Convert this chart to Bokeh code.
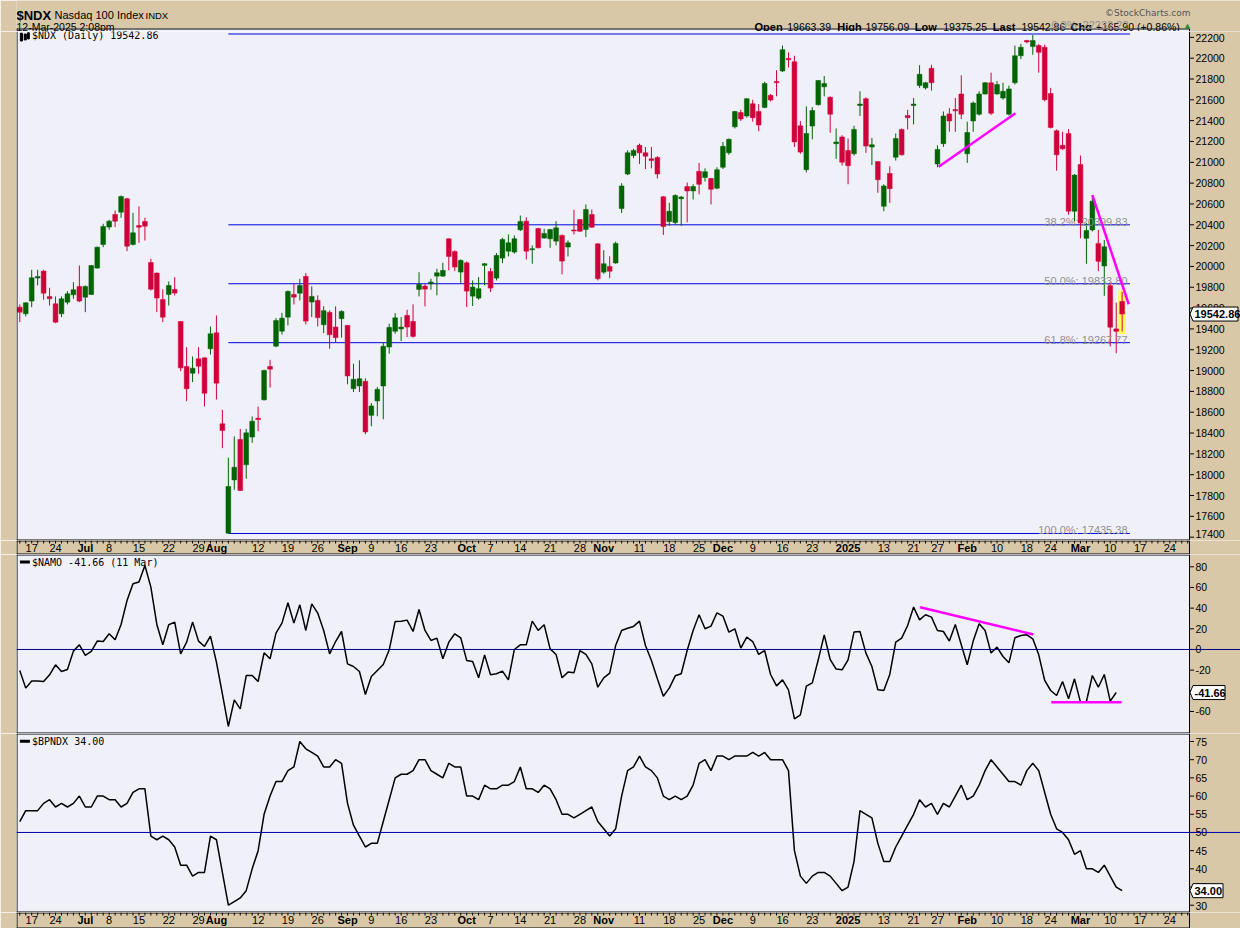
from bokeh.plotting import figure
from bokeh.layouts import column
from bokeh.models import Range1d, Span
from bokeh.core.properties import value
from bokeh.embed import file_html
from bokeh.resources import INLINE

# ---------------- data (trading-day index 0 = 13-Jun-2024 ... 185 = 12-Mar-2025) ----------------
opens = [19609, 19545, 19667, 19888, 19955, 19712, 19641, 19545, 19657, 19727,
         19808, 19705, 19731, 19984, 20211, 20378, 20499, 20521, 20650, 20211,
         20393, 20432, 20038, 19936, 19683, 19731, 19779, 19471, 19039, 18975,
         19113, 19122, 19209, 19362, 18489, 17438, 17950, 18338, 18095, 18361,
         18543, 18719, 19039, 19234, 19378, 19513, 19731, 19743, 19904, 19658,
         19674, 19440, 19559, 19418, 19498, 19434, 18826, 18852, 18897, 18570,
         18708, 18852, 19226, 19377, 19400, 19530, 19472, 19779, 19811, 19834,
         19907, 19907, 20265, 20144, 19946, 20035, 19715, 19696, 20010, 19952,
         19888, 20080, 20147, 20138, 20352, 20435, 20160, 20365, 20272, 20266,
         20243, 20298, 20186, 20349, 20451, 20355, 20499, 20217, 19945, 20000,
         20033, 20556, 20887, 21065, 21163, 21091, 21033, 21046, 20669, 20432,
         20423, 20650, 20767, 20725, 20913, 20854, 20845, 20751, 20952, 21091,
         21341, 21478, 21445, 21562, 21488, 21527, 21643, 21777, 21877, 21997,
         21965, 21351, 20929, 21348, 21553, 21725, 21624, 21179, 21244, 21114,
         21082, 21546, 21611, 21147, 21007, 20578, 20893, 21049, 21316, 21449,
         21546, 21738, 21715, 21903, 20984, 21179, 21465, 21507, 21656, 21082,
         21397, 21462, 21656, 21764, 21656, 21617, 21462, 21764, 22023, 22169,
         22111, 22121, 22105, 21660, 21303, 21163, 21277, 20530, 20978, 20270,
         20351, 20221, 20004, 19815, 19400, 19663.39]
highs = [19635, 19655, 19968, 19968, 19968, 19795, 19712, 19712, 19763, 19849,
         20009, 19817, 20012, 20190, 20410, 20448, 20538, 20681, 20659, 20515,
         20576, 20467, 20073, 19942, 19779, 19856, 19897, 19475, 19225, 19135,
         19225, 19125, 19423, 19529, 18623, 18163, 18367, 18440, 18440, 18559,
         18655, 19008, 19103, 19503, 19554, 19770, 19833, 19881, 19936, 19808,
         19722, 19617, 19578, 19617, 19578, 19436, 19066, 19098, 18925, 18688,
         18842, 19274, 19450, 19552, 19514, 19584, 19636, 19945, 19830, 19882,
         19978, 20035, 20270, 20154, 20068, 20048, 19866, 19898, 20032, 19984,
         20128, 20275, 20307, 20298, 20489, 20473, 20202, 20371, 20362, 20360,
         20435, 20307, 20250, 20544, 20455, 20595, 20547, 20222, 20156, 20098,
         20238, 20799, 21114, 21130, 21179, 21147, 21147, 21059, 20676, 20611,
         20692, 20676, 20806, 20789, 20994, 20942, 20850, 20952, 21195, 21228,
         21494, 21504, 21617, 21601, 21559, 21773, 21656, 21884, 22121, 22056,
         22023, 21397, 21536, 21530, 21790, 21829, 21634, 21325, 21260, 21228,
         21351, 21682, 21624, 21234, 21010, 20789, 20962, 21277, 21325, 21504,
         21617, 21932, 21773, 21936, 21163, 21488, 21520, 21617, 21835, 21390,
         21585, 21682, 21770, 21861, 21780, 21764, 21737, 22121, 22137, 22176,
         22222.61, 22137, 22130, 21715, 21316, 21293, 21319, 20887, 21065, 20416,
         20686, 20351, 20254, 19848, 19653, 19756.09]
lows = [19465, 19520, 19609, 19818, 19680, 19625, 19455, 19513, 19635, 19689,
        19657, 19561, 19725, 19978, 20185, 20352, 20378, 20467, 20147, 20201,
        20227, 20249, 19769, 19561, 19465, 19625, 19721, 18994, 18706, 18889,
        18969, 18655, 19154, 18722, 18255, 17435.38, 17855, 17842, 17961, 18306,
        18418, 18713, 18837, 19225, 19346, 19433, 19635, 19673, 19443, 19514,
        19425, 19360, 19210, 19274, 19316, 18868, 18794, 18794, 18388, 18465,
        18561, 18532, 19162, 19354, 19284, 19322, 19316, 19712, 19616, 19776,
        19722, 19900, 19962, 19955, 19840, 19610, 19620, 19680, 19818, 19754,
        19866, 20032, 20096, 20122, 20339, 20067, 20026, 20173, 20266, 20179,
        20202, 19923, 20096, 20307, 20330, 20282, 20371, 19866, 19929, 19887,
        20026, 20514, 20877, 21040, 20984, 20936, 20942, 20845, 20302, 20390,
        20400, 20390, 20423, 20643, 20692, 20815, 20595, 20741, 20936, 21072,
        21325, 21397, 21429, 21390, 21299, 21520, 21585, 21634, 21867, 21910,
        21147, 21082, 20903, 21221, 21546, 21634, 21283, 21033, 20968, 20789,
        21065, 21445, 21091, 20974, 20708, 20530, 20611, 21017, 21065, 21316,
        21364, 21715, 21699, 21689, 20952, 21147, 21293, 21293, 21416, 20994,
        21293, 21449, 21650, 21455, 21650, 21601, 21449, 21747, 21991, 22143,
        22033, 21861, 21585, 21325, 20919, 21120, 20497, 20432, 20270, 20026,
        20335, 19955, 19718, 19231, 19166, 19375.25]
closes = [19561, 19651, 19891, 19904, 19743, 19690, 19465, 19689, 19737, 19776,
          19667, 19808, 20009, 20185, 20384, 20435, 20435, 20672, 20195, 20323,
          20377, 20387, 19782, 19696, 19513, 19817, 19744, 19026, 18825, 19023,
          19042, 18783, 19353, 18879, 18424, 17887, 18072, 17848, 18402, 18514,
          18530, 19001, 19013, 19481, 19503, 19760, 19705, 19817, 19475, 19712,
          19508, 19575, 19344, 19316, 19568, 18948, 18916, 18922, 18410, 18660,
          18820, 19233, 19415, 19507, 19418, 19418, 19328, 19827, 19782, 19850,
          19939, 19962, 20096, 19994, 20058, 19763, 19802, 19786, 20026, 19792,
          20106, 20259, 20227, 20266, 20432, 20147, 20170, 20179, 20317, 20355,
          20371, 20051, 20227, 20342, 20339, 20547, 20377, 19882, 20026, 19954,
          20221, 20773, 21091, 21114, 21091, 21059, 21017, 20887, 20384, 20530,
          20682, 20666, 20725, 20767, 20789, 20910, 20741, 20929, 21153, 21221,
          21488, 21416, 21611, 21429, 21358, 21757, 21598, 21764, 22082, 21984,
          21195, 21098, 21277, 21497, 21786, 21757, 21462, 21195, 21001, 20968,
          21316, 21559, 21156, 21169, 20832, 20773, 20747, 21228, 21072, 21429,
          21559, 21845, 21764, 21764, 21124, 21445, 21397, 21494, 21462, 21286,
          21569, 21656, 21764, 21471, 21747, 21682, 21705, 22023, 22105, 22156,
          22169, 22056, 21601, 21335, 21072, 21130, 20530, 20877, 20416, 20345,
          20627, 20049, 20189, 19416, 19377, 19542.86]

namo = [-20.3, -37.4, -30.6, -30.6, -31.0, -24.5, -14.8, -21.3, -19.4, -1.6,
        4.5, -5.8, -1.9, 8.1, 7.7, 15.2, 9.4, 24.2, 47.4, 63.6,
        65.2, 81.3, 60.3, 24.2, 4.5, 23.9, 26.5, -4.2, 7.1, 26.5,
        8.1, 2.9, 12.9, -12.3, -42.9, -74.5, -48.7, -57.4, -25.2, -25.2,
        -31.0, -3.2, -9.0, 15.8, 25.5, 45.2, 25.5, 43.2, 18.4, 44.2,
        35.2, 18.4, -4.2, 7.7, 17.4, -13.9, -16.5, -21.3, -43.6, -26.1,
        -20.3, -14.5, -0.3, 27.1, 27.4, 28.4, 17.4, 38.7, 18.4, 8.7,
        11.0, -9.0, 7.1, 15.2, 11.3, -10.6, -11.6, -27.4, -5.2, -24.5,
        -23.5, -21.0, -29.4, 0.0, 4.5, 4.5, 27.4, 18.4, 23.9, 0.6,
        -4.8, -27.4, -21.9, -22.6, -1.0, -4.8, -13.9, -36.5, -27.4, -22.9,
        3.9, 18.4, 20.6, 22.3, 27.4, 3.9, -10.6, -28.4, -45.2, -37.4,
        -25.5, -23.5, -1.0, 18.4, 33.6, 20.0, 22.6, 35.5, 32.3, 16.8,
        20.0, 1.3, 11.9, 7.7, -4.8, -1.0, -24.2, -35.2, -29.4, -39.0,
        -67.1, -63.2, -35.5, -32.3, -10.0, 14.2, -9.7, -19.0, -19.7, -10.0,
        16.8, 17.4, -3.5, -16.5, -39.0, -39.7, -24.2, 7.1, 11.0, 23.2,
        41.0, 28.7, 33.6, 31.3, 18.4, 17.4, 8.1, 24.2, 4.5, -14.8,
        8.1, 24.8, 18.4, -3.5, 2.3, -6.8, -12.9, 11.3, 13.5, 14.2,
        10.3, -5.2, -30.0, -39.7, -44.5, -31.0, -47.7, -28.4, -51.0, -50.3,
        -25.2, -36.5, -24.2, -50.0, -41.66]

bpndx = [53, 56, 56, 56, 58, 59, 57, 58, 57, 58,
         60, 57, 57, 60, 60, 59, 59, 57, 58, 61,
         62, 62, 49, 48, 49, 48, 46, 41, 41, 38,
         39, 39, 49, 48, 39, 30, 31, 32, 34, 40,
         45, 55, 60, 64, 64, 67, 68, 75, 73, 72,
         71, 68, 68, 70, 69, 58, 52, 49, 46, 47,
         47, 53, 59, 65, 66, 66, 67, 70, 70, 67,
         66, 65, 69, 68, 68, 60, 60, 59, 63, 62,
         62, 63, 63, 64, 68, 62, 62, 61, 63, 62,
         59, 55, 55, 54, 55, 56, 57, 53, 51, 49,
         51, 60, 67, 68, 71, 68, 67, 65, 60, 59,
         60, 59, 60, 63, 69, 70, 67, 71, 71, 70,
         71, 71, 71, 72, 71, 72, 70, 70, 70, 67,
         45, 38, 36, 38, 39, 39, 38, 36, 34, 35,
         42, 56, 55, 54, 47, 42, 42, 46, 49, 52,
         55, 59, 57, 58, 55, 58, 57, 60, 63, 59,
         60, 63, 67, 70, 68, 66, 64, 64, 63, 67,
         69, 67, 61, 55, 51, 50, 48, 44, 45, 40,
         40, 39, 41, 38, 35, 34]

tick_pos = [2, 6, 11, 15, 20, 25, 30, 33, 40, 45, 50, 55, 59, 64, 69, 75, 79, 84, 89, 94,
            98, 104, 109, 114, 118, 123, 128, 133, 139, 145, 150, 154, 159, 164, 169, 173,
            178, 183, 188, 193]
tick_text = ["17", "24", "Jul", "8", "15", "22", "29", "Aug", "12", "19", "26", "Sep", "9",
             "16", "23", "Oct", "7", "14", "21", "28", "Nov", "11", "18", "25", "Dec", "9",
             "16", "23", "2025", "13", "21", "27", "Feb", "10", "18", "24", "Mar", "10",
             "17", "24"]
tick_bold = [t in ("Jul", "Aug", "Sep", "Oct", "Nov", "Dec", "2025", "Feb", "Mar") for t in tick_text]

price_ticks = list(range(17400, 22201, 200))
namo_ticks = [-60, -40, -20, 0, 20, 40, 60, 80]
bp_ticks = list(range(30, 76, 5))

fib_pct = ["0.0%", "38.2%", "50.0%", "61.8%", "100.0%"]
fib_levels = [22232.22, 20399.83, 19833.80, 19267.77, 17435.38]
fib_start, fib_end = 35, 186.3

trend1_x, trend1_y = [154.2, 167.1], [20958, 21471]
trend2_x, trend2_y = [180.0, 186.1], [20685, 19637]
namo_t1_x, namo_t1_y = [151.1, 170.1], [40.9, 14.5]
namo_t2_x, namo_t2_y = [173.1, 184.9], [-51.0, -51.0]

# ---------------- style / geometry ----------------
TAN = "#d8c8a8"
PANEL = "#f0f0f9"
GREEN = "#006400"
RED = "#d0003a"
BLUE = "#0000e0"
NAVY = "#000080"
MAGENTA = "#ff00ff"
FONT = "Liberation Sans"
MONO = "DejaVu Sans Mono"

W = 1240
LB = 16             # left border (px); every figure gets the same borders
FRAME_W = 1173      # width of the chart frame proper (px)
RB = W - LB - FRAME_W   # price-axis column (inside each figure's frame)
X0, XE = -0.55, 196.3
PX = FRAME_W / (XE - X0)          # px per trading day
XR = Range1d(X0, XE + RB / PX)
HDR_H = 31


def base(h, yr):
    p = figure(width=W, height=h, x_range=XR, y_range=yr,
               output_backend="svg", toolbar_location=None,
               x_axis_location=None, y_axis_location=None,
               min_border_left=LB, min_border_right=0, min_border_top=0, min_border_bottom=0)
    p.border_fill_color = TAN
    p.outline_line_color = None
    p.xgrid.visible = False
    p.ygrid.visible = False
    return p


def panel(h, y0, y1):
    p = base(h, Range1d(y0, y1))
    p.background_fill_color = PANEL
    p.quad(left=[XE], right=[XR.end + 1], top=[y1 + (y1 - y0)], bottom=[y0 - (y1 - y0)],
           fill_color=TAN, line_color=None)
    return p


def borders(p, h, top=True):
    y0, y1 = p.y_range.start, p.y_range.end
    upx = (y1 - y0) / h
    xpx = 1 / PX
    bx0 = [X0 + 0.5 * xpx, X0, XE]
    by0 = [y0, y0 + 0.5 * upx, y0]
    bx1 = [X0 + 0.5 * xpx, XE, XE]
    by1 = [y1, y0 + 0.5 * upx, y1]
    if top:
        bx0.append(X0); by0.append(y1 - 0.5 * upx)
        bx1.append(XE); by1.append(y1 - 0.5 * upx)
    p.segment(x0=bx0, y0=by0, x1=bx1, y1=by1, line_color="black", line_width=1)


def price_axis(p, h, ticks, cur, cur_txt, box_w):
    y0, y1 = p.y_range.start, p.y_range.end
    upx = (y1 - y0) / h
    xpx = 1 / PX
    p.segment(x0=[XE] * len(ticks), y0=ticks, x1=[XE + 4.5 * xpx] * len(ticks), y1=ticks,
              line_color="black", line_width=1)
    mid = [t for t in ticks if 7.5 * upx < t - y0 and y1 - t > 7.5 * upx]
    low = [t for t in ticks if t - y0 <= 7.5 * upx]
    high = [t for t in ticks if y1 - t <= 7.5 * upx]
    for sel, ys, bl in ((mid, mid, "middle"), (low, [y0 + 2.5 * upx] * len(low), "bottom"),
                        (high, [y1 - 2.5 * upx] * len(high), "top")):
        if sel:
            p.text(x=[XE + 6 * xpx] * len(sel), y=ys, text=[str(t) for t in sel],
                   text_font=value(FONT), text_font_size="10.5px", text_color="black",
                   text_align="left", text_baseline=bl)
    # current value tag
    hh = 7 * upx
    bx0 = XE + 3.5 * xpx
    p.patch(x=[XE + 0.5 * xpx, bx0, bx0 + box_w * xpx, bx0 + box_w * xpx, bx0],
            y=[cur, cur + hh, cur + hh, cur - hh, cur - hh],
            fill_color="white", line_color="black", line_width=1)
    p.text(x=[bx0 + 1.5 * xpx], y=[cur], text=[cur_txt], text_font=value(FONT),
           text_font_size="11px", text_font_style="bold", text_color="black",
           text_align="left", text_baseline="middle")


def strip(h, label_y):
    s = base(h, Range1d(0, h))
    s.background_fill_color = TAN
    days = list(range(0, 197))
    s.segment(x0=days, y0=[h] * len(days), x1=days, y1=[h - 3] * len(days),
              line_color="black", line_width=1)
    for bold in (False, True):
        sel = [i for i, b in enumerate(tick_bold) if b == bold]
        s.text(x=[tick_pos[i] for i in sel], y=[label_y] * len(sel),
               text=[tick_text[i] for i in sel], text_align="center", text_baseline="middle",
               text_font=value(FONT), text_font_size="11px",
               text_font_style="bold" if bold else "normal", text_color="black")
    borders(s, h)
    return s


# ---------------- header ----------------
hdr = figure(width=W, height=HDR_H, x_range=Range1d(LB, W), y_range=Range1d(0, HDR_H),
             output_backend="svg", toolbar_location=None,
             x_axis_location=None, y_axis_location=None,
             min_border_left=LB, min_border_right=0, min_border_top=0, min_border_bottom=0)
hdr.background_fill_color = TAN
hdr.border_fill_color = TAN
hdr.outline_line_color = None
hdr.xgrid.visible = False
hdr.ygrid.visible = False


def htext(x, y, t, size="11px", style="normal", color="black", align="left", font=FONT,
          baseline="alphabetic"):
    hdr.text(x=[x], y=[y], text=[t], text_font=value(font), text_font_size=size,
             text_font_style=style, text_color=color, text_align=align,
             text_baseline=baseline)


# top strip of the price frame (page y 28..31) lives in the header figure
hx_end = LB + FRAME_W
hdr.quad(left=[LB], right=[hx_end], top=[HDR_H - 28], bottom=[0], fill_color=PANEL, line_color=None)
hdr.segment(x0=[LB, LB + 0.5, hx_end], y0=[HDR_H - 28.5, 0, 0],
            x1=[hx_end, LB + 0.5, hx_end], y1=[HDR_H - 28.5, HDR_H - 28, HDR_H - 28],
            line_color="black", line_width=1)

htext(16, HDR_H - 14.5, "$NDX", "13px", "bold")
htext(54, HDR_H - 14.5, "Nasdaq 100 Index", "11px")
htext(145, HDR_H - 14.5, "INDX", "9.5px")
htext(16, HDR_H - 26, "12-Mar-2025 2:08pm", "10.5px")
htext(1190, HDR_H - 12, "\u00a9StockCharts.com", "9px", color="#555555", align="right",
      font="DejaVu Sans")
hdr_labels = ["Open", "High", "Low", "Last", "Chg"]
hdr_values = ["19663.39", "19756.09", "19375.25", "19542.86", "+165.90 (+0.86%)"]
hdr_lx = [754, 836.7, 914.3, 992.3, 1070]
hdr_vx = [786.7, 865, 942.7, 1021, 1095.3]
for lx, lt, vx, vt in zip(hdr_lx, hdr_labels, hdr_vx, hdr_values):
    htext(lx, HDR_H - 26, lt, "11px", "bold")
    htext(vx, HDR_H - 26, vt, "10.5px")
htext(1187, HDR_H - 25.5, "\u25b2", "7px", color="#2a8a2a", align="center", font="DejaVu Sans")
# 0% Fibonacci label, drawn over the top edge of the price frame
htext(1128, 0.2, f"{fib_pct[0]}: {fib_levels[0]:.2f}", "11px", color="#909090", align="right",
      baseline="bottom")

# ---------------- main price panel ----------------
MAIN_H = 540 - HDR_H
UPP = 9.604                                  # price units per pixel
main = panel(MAIN_H, 17368, 22285 - (HDR_H - 28) * UPP)
xs = list(range(len(closes)))
colors = [GREEN if c >= o else RED for o, c in zip(opens, closes)]
tops, bots = [], []
for o, c in zip(opens, closes):
    hi, lo = max(o, c), min(o, c)
    if hi - lo < 10:
        m = (hi + lo) / 2
        hi, lo = m + 5, m - 5
    tops.append(hi)
    bots.append(lo)

last = len(closes) - 1
main.quad(left=[last - 0.65], right=[last + 0.65], top=[highs[last] + 15],
          bottom=[lows[last] - 25], fill_color="#ffff5a", line_color=None)
main.segment(x0=[fib_start] * 5, y0=fib_levels, x1=[fib_end] * 5, y1=fib_levels,
             line_color=BLUE, line_width=1)
main.segment(x0=xs, y0=lows, x1=xs, y1=highs, line_color=colors, line_width=1)
main.vbar(x=xs, width=0.8, top=tops, bottom=bots, fill_color=colors, line_color=colors,
          line_width=0.5)
main.text(x=[fib_end - 0.4] * 4, y=fib_levels[1:],
          text=[f"{p}: {v:.2f}" for p, v in zip(fib_pct[1:], fib_levels[1:])],
          text_align="right", text_baseline="alphabetic", y_offset=-3,
          text_font=value(FONT), text_font_size="11px", text_color="#909090")
main.line(trend1_x, trend1_y, line_color=MAGENTA, line_width=2.5)
main.line(trend2_x, trend2_y, line_color=MAGENTA, line_width=2.5)
main.quad(left=[0.1, 0.75, 1.3], right=[0.45, 1.1, 1.6], top=[22240, 22232, 22244],
          bottom=[22165, 22175, 22185], fill_color="black", line_color="black")
main.text(x=[2.05], y=[22215], text=["$NDX (Daily) 19542.86"], text_font=value(MONO),
          text_font_size="10px", text_baseline="middle", text_color="black")
borders(main, MAIN_H, top=False)
price_axis(main, MAIN_H, price_ticks, closes[-1], "19542.86", 45)

# ---------------- NAMO panel ----------------
namo_p = panel(179, -81.3, 91.9)
namo_p.add_layout(Span(location=0, dimension="width", line_color=NAVY, line_width=1))
namo_p.line(list(range(len(namo))), namo, line_color="black", line_width=1.5)
namo_p.line(namo_t1_x, namo_t1_y, line_color=MAGENTA, line_width=2.5)
namo_p.line(namo_t2_x, namo_t2_y, line_color=MAGENTA, line_width=2.5)
namo_p.segment(x0=[0.03], y0=[84.6], x1=[1.7], y1=[84.6], line_color="black", line_width=3)
namo_p.text(x=[2.05], y=[84.6], text=["$NAMO -41.66 (11 Mar)"], text_font=value(MONO),
            text_font_size="10px", text_baseline="middle", text_color="black")
borders(namo_p, 179)
price_axis(namo_p, 179, namo_ticks, namo[-1], "-41.66", 32)

# ---------------- BPNDX panel ----------------
bp = panel(179, 28.0, 77.2)
bp.add_layout(Span(location=50, dimension="width", line_color="#0000aa", line_width=1))
bp.line(list(range(len(bpndx))), bpndx, line_color="black", line_width=1.5)
bp.segment(x0=[0.03], y0=[75.1], x1=[1.7], y1=[75.1], line_color="black", line_width=3)
bp.text(x=[2.05], y=[75.1], text=["$BPNDX 34.00"], text_font=value(MONO),
        text_font_size="10px", text_baseline="middle", text_color="black")
borders(bp, 179)
price_axis(bp, 179, bp_ticks, bpndx[-1], "34.00", 30)

layout = column(hdr, main, strip(14, 6.8), namo_p, bp, strip(16, 8.5), spacing=0)

open("out.html", "w").write(file_html(layout, INLINE, title="$NDX Nasdaq 100 Index"))
